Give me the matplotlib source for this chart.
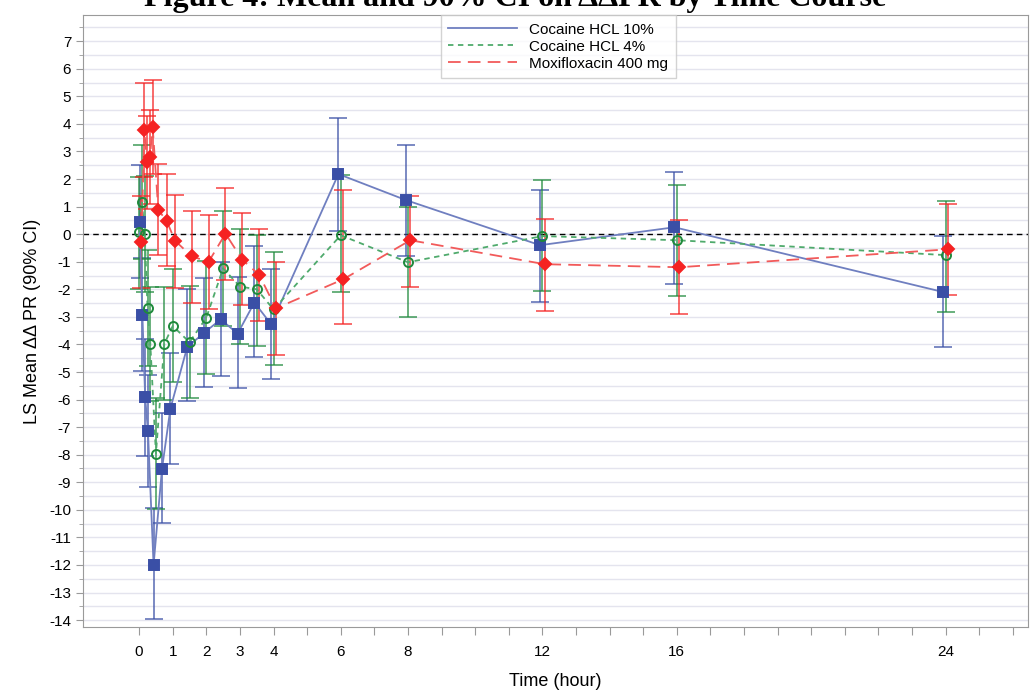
import numpy as np
import matplotlib
matplotlib.use("Agg")
import matplotlib.pyplot as plt
from matplotlib.ticker import MultipleLocator, FixedLocator

plt.rcParams['font.family'] = ['Liberation Sans', 'DejaVu Sans']
plt.rcParams['axes.unicode_minus'] = False

# nominal time points (hours)
times = [0, 0.083, 0.167, 0.25, 0.333, 0.5, 0.75, 1, 1.5, 2, 2.5, 3, 3.5, 4, 6, 8, 12, 16, 24]

# Cocaine HCL 10% (no visible value at t=0)
blue_t = times[1:]
blue_mean = [0.45, -2.92, -5.92, -7.15, -12.0, -8.52, -6.33, -4.10, -3.58, -3.09, -3.61, -2.48, -3.27, 2.18, 1.24, -0.40, 0.25, -2.10]
blue_low = [-1.60, -4.97, -8.04, -9.16, -13.96, -10.47, -8.33, -6.07, -5.55, -5.13, -5.59, -4.47, -5.27, 0.11, -0.80, -2.45, -1.80, -4.10]
blue_up = [2.50, -0.87, -3.80, -5.10, -9.93, -6.50, -4.30, -2.00, -1.60, -1.00, -1.54, -0.42, -1.25, 4.22, 3.25, 1.60, 2.25, -0.05]

# Cocaine HCL 4%
green_mean = [0.08, 1.17, 0.00, -2.67, -3.98, -7.96, -3.98, -3.33, -3.92, -3.03, -1.24, -1.90, -2.00, -2.73, -0.04, -1.02, -0.07, -0.22, -0.76]
green_low = [-2.00, -0.90, -2.10, -4.77, -6.05, -9.97, -6.00, -5.38, -5.93, -5.08, -3.33, -3.98, -4.05, -4.73, -2.10, -3.00, -2.07, -2.25, -2.83]
green_up = [2.08, 3.25, 2.10, -0.57, -1.90, -5.93, -1.93, -1.27, -1.88, -0.98, 0.85, 0.18, -0.03, -0.66, 2.15, 1.00, 1.96, 1.78, 1.20]

# Moxifloxacin 400 mg
red_mean = [-0.28, 3.78, 2.60, 2.79, 3.88, 0.88, 0.48, -0.24, -0.81, -1.00, 0.02, -0.93, -1.47, -2.69, -1.64, -0.22, -1.09, -1.20, -0.55]
red_low = [-1.96, 2.06, 0.92, 1.10, 2.20, -0.75, -1.15, -1.94, -2.51, -2.70, -1.67, -2.57, -3.14, -4.39, -3.27, -1.90, -2.80, -2.90, -2.20]
red_up = [1.39, 5.50, 4.30, 4.50, 5.58, 2.55, 2.20, 1.42, 0.85, 0.69, 1.67, 0.76, 0.19, -1.02, 1.60, 1.40, 0.55, 0.50, 1.10]

xtick_labels = [0, 1, 2, 3, 4, 6, 8, 12, 16, 24]

fig = plt.figure(figsize=(10.31, 6.91), dpi=100)
ax = fig.add_axes([83/1031, 1 - 627/691, 945/1031, 612/691])

ax.yaxis.set_major_locator(MultipleLocator(1))
ax.yaxis.set_minor_locator(MultipleLocator(0.5))
ax.grid(True, which='both', axis='y', color='#e4e4ee', lw=1)
ax.set_axisbelow(True)

ax.axhline(0, color='black', lw=1, dashes=(4, 3), zorder=1)

series = [
    (blue_t, blue_mean, blue_low, blue_up, -0.07, '#3a4fa6', '#6f7fc0', 's', 'full', '-', "Cocaine HCL 10%"),
    (times, green_mean, green_low, green_up, 0.0, '#1f8a3c', '#4faa6c', 'o', 'none', (0, (3, 2.5)), "Cocaine HCL 4%"),
    (times, red_mean, red_low, red_up, 0.07, '#f52222', '#f25a5a', 'D', 'full', (0, (7, 4)), "Moxifloxacin 400 mg"),
]

handles = []
for t, m, lo, up, off, col, lcol, mk, fill, ls, lab in series:
    x = np.array(t) + off
    m = np.array(m)
    yerr = [m - np.array(lo), np.array(up) - m]
    ax.errorbar(x, m, yerr=yerr, fmt='none', ecolor=col, elinewidth=1.1,
                capsize=6.5, capthick=1.1, alpha=0.85, zorder=2)
    ln, = ax.plot(x, m, color=lcol, lw=1.3, linestyle=ls, zorder=3, label=lab)
    ax.plot(x, m, linestyle='none', marker=mk, ms=7 if mk == 's' else 6.5,
            color=col, mfc=col if fill == 'full' else 'none', mec=col,
            mew=1.4, zorder=4)
    handles.append(ln)

ax.set_xlim(-1.67, 26.45)
ax.set_ylim(-14.25, 7.95)

ax.xaxis.set_major_locator(FixedLocator(range(0, 27)))
ax.set_xticklabels([str(v) if v in xtick_labels else '' for v in range(0, 27)])
ax.tick_params(axis='x', which='major', length=6, color='#9a9a9a', labelsize=11, pad=7)
ax.tick_params(axis='y', which='major', length=5, color='#9a9a9a', labelsize=11)
ax.tick_params(axis='y', which='minor', length=3, color='#9a9a9a')

for s in ax.spines.values():
    s.set_color('#9a9a9a')

ax.set_xlabel("Time (hour)", fontsize=13, labelpad=10)
ax.set_ylabel("LS Mean ΔΔ PR (90% CI)", fontsize=13, labelpad=6)

leg = ax.legend(handles=handles, loc='upper center', bbox_to_anchor=(0.503, 1.0),
                borderaxespad=0, fontsize=11, frameon=True, fancybox=False,
                handlelength=4.5, labelspacing=0.2, borderpad=0.5)
leg.get_frame().set_edgecolor('#c8c8c8')
leg.get_frame().set_linewidth(1)

fig.text(0.5, 1 - 6/691, "Figure 4: Mean and 90% CI on ΔΔPR by Time Course",
         ha='center', va='baseline', fontsize=23, fontweight='bold',
         family=['Liberation Serif', 'DejaVu Serif'])

fig.savefig("out.png", dpi=100)
